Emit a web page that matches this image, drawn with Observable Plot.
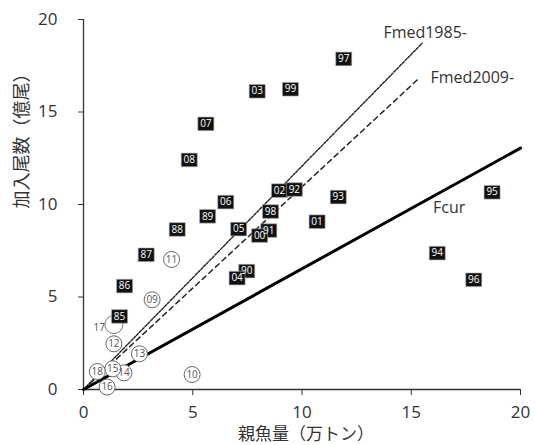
<!DOCTYPE html>
<html><head><meta charset="utf-8">
<script src="https://cdn.jsdelivr.net/npm/d3@7"></script>
<script src="https://cdn.jsdelivr.net/npm/@observablehq/plot@0.6"></script>
<style>body{margin:0;background:#fff} #chart svg{display:block}</style>
</head><body><div id="chart"></div>
<script>
// Filled (black box) years 1985-2008
const filledYears = ["85","86","87","88","89","90","91","02","92","93","94","95","96","97","98","99","00","01","03","04","05","06","07","08"];
const filledSSB   = [1.65,1.88,2.87,4.29,5.68,7.47,8.48,8.97,9.65,11.66,16.19,18.70,17.86,11.91,8.56,9.47,8.06,10.69,7.95,7.03,7.10,6.51,5.60,4.84];
const filledRec   = [3.95,5.59,7.28,8.65,9.36,6.40,8.59,10.75,10.81,10.40,7.37,10.66,5.93,17.87,9.62,16.23,8.32,9.07,16.12,6.02,8.67,10.13,14.36,12.41];
// Open-circle years 2009-2018
const openYears = ["09","10","11","12","13","14","15","16","18"];
const openSSB   = [3.14,4.97,4.03,1.39,2.56,1.85,1.34,1.08,0.63];
const openRec   = [4.85,0.81,7.03,2.47,1.93,0.90,1.12,0.13,0.97];
// Latest year (larger circle, label outside)
const lastYear = ["17"];
const lastSSB  = [1.39];
const lastRec  = [3.51];
// Reference lines through origin
const refNames  = ["Fmed1985-","Fmed2009-","Fcur"];
const refEndSSB = [15.5,15.38,20];
const refEndRec = [18.72,16.85,13.05];
const xTicks = [0,5,10,15,20];
const yTicks = [0,5,10,15,20];
const xTitle = "親魚量（万トン）";
const yTitle = "加入尾数（億尾）";

const filled = filledYears.map((t,i)=>({t, x:filledSSB[i], y:filledRec[i]}));
const open = openYears.map((t,i)=>({t, x:openSSB[i], y:openRec[i]}));
const last = lastYear.map((t,i)=>({t, x:lastSSB[i], y:lastRec[i]}));
const refLine = k => [{x:0,y:0},{x:refEndSSB[k],y:refEndRec[k]}];
const refEnd = k => [{t:refNames[k], x:refEndSSB[k], y:refEndRec[k]}];
const fcurLabelX = 16;
const fcurLabel = [{t:refNames[2], x:fcurLabelX, y:fcurLabelX*refEndRec[2]/refEndSSB[2]}];

const boxSymbol = {draw(ctx, size){const r=Math.sqrt(size/Math.PI); const w=r, h=r*0.85; ctx.moveTo(-w,-h); ctx.lineTo(w,-h); ctx.lineTo(w,h); ctx.lineTo(-w,h); ctx.closePath();}};

const font = "'Open Sans','Noto Sans CJK JP',sans-serif";
const chart = Plot.plot({
  width:535, height:445,
  marginLeft:83, marginRight:15, marginTop:19, marginBottom:56,
  x:{domain:[0,20]}, y:{domain:[0,20]},
  style:{fontFamily:font, color:"#333", background:"#fff"},
  marks:[
    Plot.axisX(xTicks,{tickSize:6, tickPadding:10, fontSize:17, label:null, stroke:"#333"}),
    Plot.axisY(yTicks,{tickSize:5, tickPadding:21, fontSize:17, label:null, stroke:"#333"}),
    Plot.ruleX([0],{stroke:"#333", strokeWidth:1.3}),
    Plot.ruleY([0],{stroke:"#333", strokeWidth:1.3}),
    Plot.line(refLine(0),{x:"x",y:"y",stroke:"#222",strokeWidth:1.4,strokeDasharray:"2.5,1.5"}),
    Plot.line(refLine(1),{x:"x",y:"y",stroke:"#222",strokeWidth:1.5,strokeDasharray:"5,4"}),
    Plot.line(refLine(2),{x:"x",y:"y",stroke:"#000",strokeWidth:3}),
    Plot.text(refEnd(0),{x:"x",y:"y",text:"t",textAnchor:"middle",dx:3,dy:-10,fontSize:16,fill:"#333"}),
    Plot.text(refEnd(1),{x:"x",y:"y",text:"t",textAnchor:"start",dx:11,dy:0,fontSize:16,fill:"#333"}),
    Plot.text(fcurLabel,{x:"x",y:"y",text:"t",textAnchor:"start",dx:0,dy:12,fontSize:16,fill:"#333"}),
    Plot.dot(last,{x:"x",y:"y",r:9,fill:"#fff",stroke:"#777",strokeWidth:1}),
    Plot.text(last,{x:"x",y:"y",text:"t",textAnchor:"end",dx:-9,dy:3,fontSize:10,fill:"#555"}),
    Plot.dot(open,{x:"x",y:"y",r:8,fill:"#fff",stroke:"#666",strokeWidth:1}),
    Plot.text(open,{x:"x",y:"y",text:"t",fontSize:10,fill:"#555"}),
    Plot.dot(filled,{x:"x",y:"y",r:8,symbol:boxSymbol,fill:"#111",stroke:"#aaa",strokeWidth:0.6}),
    Plot.text(filled,{x:"x",y:"y",text:"t",fontSize:10,fill:"#fff"}),
    Plot.text([xTitle],{frameAnchor:"bottom",lineAnchor:"middle",dx:4,dy:45,fontSize:17,fill:"#333"}),
    Plot.text([yTitle],{frameAnchor:"left",dx:-61,dy:4,rotate:-90,fontSize:18,fill:"#333"})
  ]
});
document.getElementById("chart").append(chart);
</script></body></html>
